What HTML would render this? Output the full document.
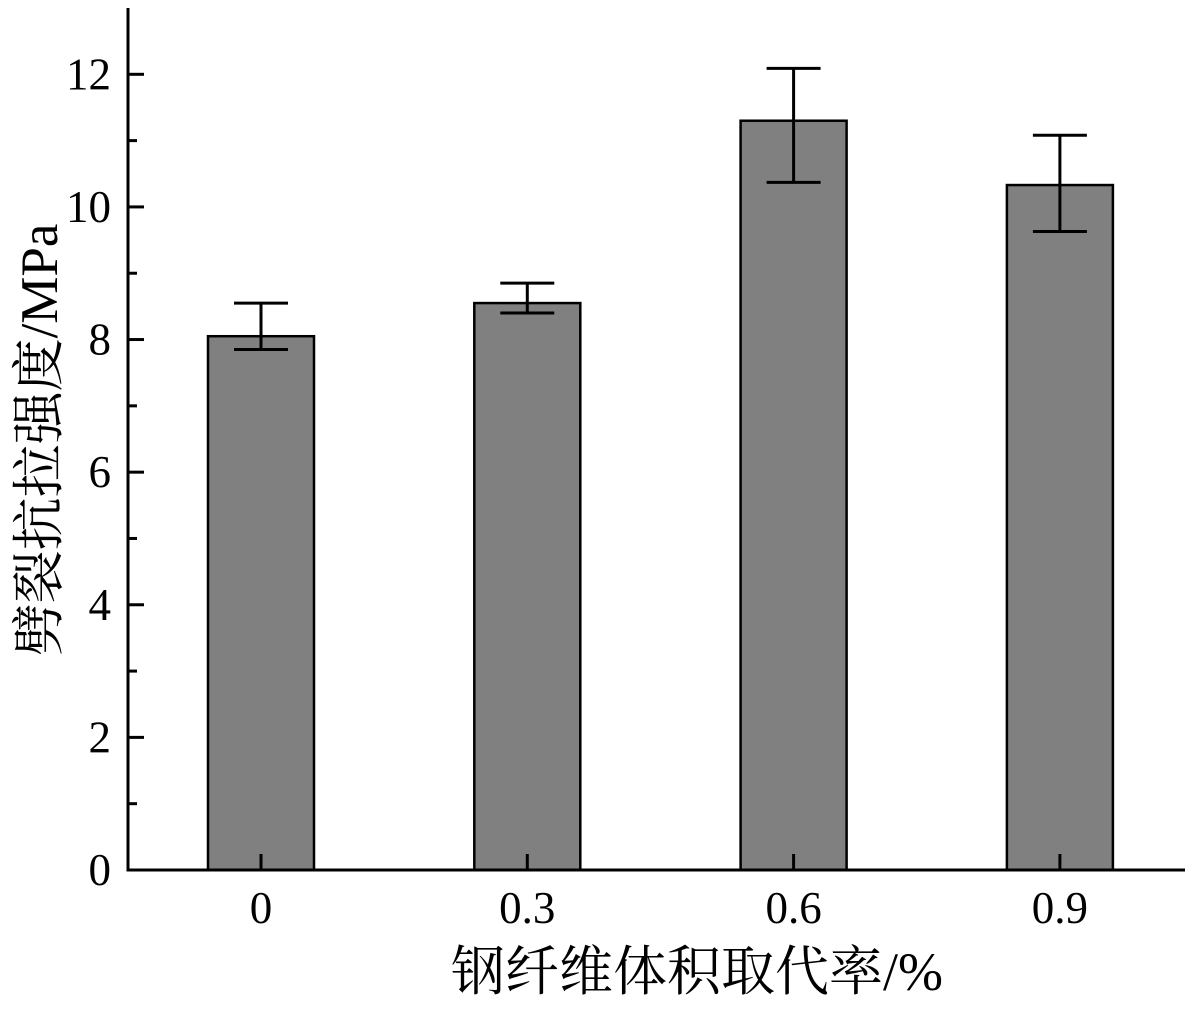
<!DOCTYPE html>
<html><head><meta charset="utf-8"><style>
body{margin:0;background:#fff}
text{font-family:"Liberation Serif","Noto Serif CJK SC",serif;fill:#000}
</style></head><body>
<svg id="c" width="1201" height="1008"></svg>
<script>
const categories=["0","0.3","0.6","0.9"];
const values=[8.05,8.55,11.3,10.33];
const errLow=[7.85,8.40,10.37,9.63];
const errHigh=[8.55,8.85,12.09,11.08];
const yTicks=[0,2,4,6,8,10,12];
const svg=document.getElementById('c');
const NS='http://www.w3.org/2000/svg';
const x0=128,x1=1185,yBase=870,yTop=8,yMax=13;
const y=v=>yBase-v*(yBase-yTop)/yMax;
const xc=i=>261+i*266.3;
const bw=106;
function mk(t,a,name){const e=document.createElementNS(NS,t);for(const k in a)e.setAttribute(k,a[k]);


svg.appendChild(e);return e;}
values.forEach((v,i)=>{
 mk('rect',{x:xc(i)-bw/2,y:y(v),width:bw,height:yBase-y(v),fill:'#808080',stroke:'#000','stroke-width':2.5},'bar-'+categories[i]);
 mk('line',{x1:xc(i),x2:xc(i),y1:y(errHigh[i]),y2:y(errLow[i]),stroke:'#000','stroke-width':3},'error-bar-'+categories[i]);
 mk('line',{x1:xc(i)-27,x2:xc(i)+27,y1:y(errHigh[i]),y2:y(errHigh[i]),stroke:'#000','stroke-width':3},'error-cap-high');
 mk('line',{x1:xc(i)-27,x2:xc(i)+27,y1:y(errLow[i]),y2:y(errLow[i]),stroke:'#000','stroke-width':3},'error-cap-low');
 mk('line',{x1:xc(i),x2:xc(i),y1:yBase,y2:yBase-16,stroke:'#000','stroke-width':3},'x-tick');
 const t=mk('text',{x:xc(i),y:923,'font-size':45,'text-anchor':'middle'},'x-tick-label');t.textContent=categories[i];
});
yTicks.forEach(v=>{
 mk('line',{x1:x0,x2:x0+16,y1:y(v),y2:y(v),stroke:'#000','stroke-width':3},'y-tick');
 const t=mk('text',{x:111,y:y(v)+15,'font-size':45,'text-anchor':'end'},'y-tick-label');t.textContent=v;
 if(v+1<yMax) mk('line',{x1:x0,x2:x0+9,y1:y(v+1),y2:y(v+1),stroke:'#000','stroke-width':3},'y-minor-tick');
});
mk('line',{x1:x0,x2:x0,y1:yTop,y2:yBase+1.5,stroke:'#000','stroke-width':3},'y-axis');
mk('line',{x1:x0,x2:x1,y1:yBase,y2:yBase,stroke:'#000','stroke-width':3},'x-axis');
const xt=mk('text',{x:697,y:990,'font-size':54,'text-anchor':'middle'},'x-axis-title');xt.textContent='钢纤维体积取代率/%';
const yt=mk('text',{x:0,y:0,'font-size':53,'text-anchor':'middle',transform:'translate(57,440) rotate(-90)'},'y-axis-title');yt.textContent='劈裂抗拉强度/MPa';
</script>
</body></html>
